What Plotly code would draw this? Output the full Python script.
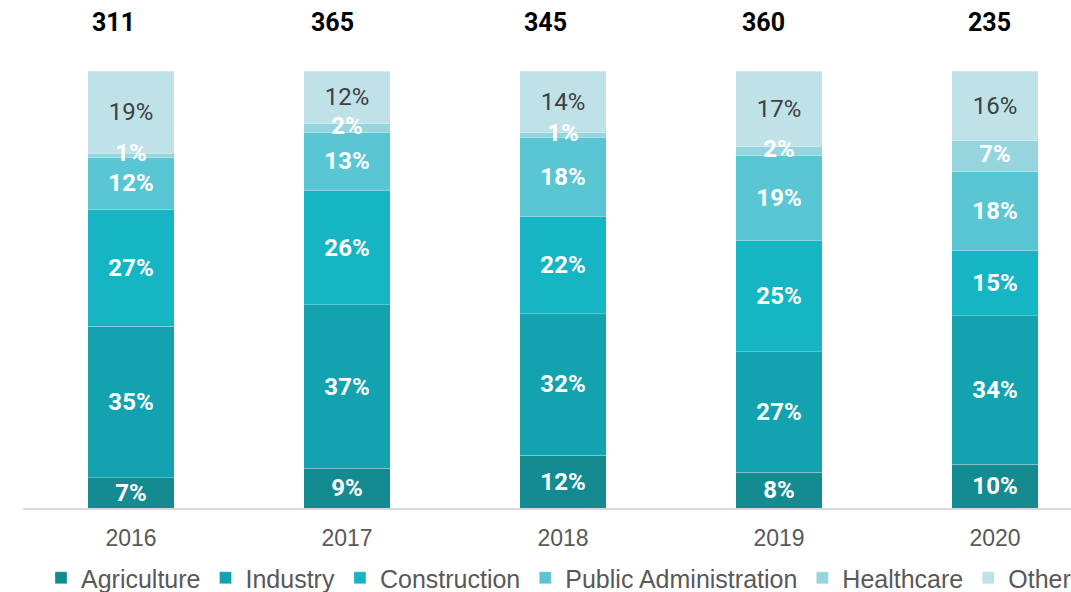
import plotly.graph_objects as go

years = ["2016", "2017", "2018", "2019", "2020"]
totals = [311, 365, 345, 360, 235]

series_names = ["Agriculture", "Industry", "Construction", "Public Administration", "Healthcare", "Other"]
agriculture = [7, 9, 12, 8, 10]
industry = [35, 37, 32, 27, 34]
construction = [27, 26, 22, 25, 15]
public_admin = [12, 13, 18, 19, 18]
healthcare = [1, 2, 1, 2, 7]
other = [19, 12, 14, 17, 16]

series_values = [agriculture, industry, construction, public_admin, healthcare, other]
colors = ["#148A91", "#13A2B0", "#16B5C4", "#5BC6D3", "#97D5DE", "#BEE2E7"]

# styling: vertical level of total labels and their horizontal nudges (px), as in the original layout
TOTAL_LABEL_LEVEL = 111.0
total_label_xshift = [-18, -15, -18, -16, -6]

fig = go.Figure()
for name, vals, col in zip(series_names, series_values, colors):
    is_other = name == "Other"
    is_health = name == "Healthcare"
    fig.add_trace(go.Bar(
        name=name,
        x=years,
        y=vals,
        text=None if is_health else [f"{v}%" for v in vals],
        texttemplate=None if is_health else "%{text}",
        textposition="none" if is_health else "inside",
        insidetextanchor="middle",
        textangle=0,
        insidetextfont=dict(
            family="Roboto",
            size=24,
            color="#404040" if is_other else "#FFFFFF",
            weight="normal" if is_other else "bold",
        ),
        marker=dict(color=col, line=dict(color="rgba(255,255,255,0.35)", width=0.8)),
        width=0.4,
        hoverinfo="skip",
    ))

# Healthcare labels drawn on top (the thin segments would otherwise hide them)
health_mid = []
for i in range(len(years)):
    col_sum = sum(s[i] for s in series_values)
    below = agriculture[i] + industry[i] + construction[i] + public_admin[i]
    health_mid.append((below + healthcare[i] / 2) / col_sum * 100)

fig.add_trace(go.Scatter(
    x=years,
    y=health_mid,
    text=[f"{v}%" for v in healthcare],
    mode="text",
    textposition="middle center",
    textfont=dict(family="Roboto", size=24, color="#FFFFFF", weight="bold"),
    showlegend=False,
    hoverinfo="skip",
))

for i, (t, dx) in enumerate(zip(totals, total_label_xshift)):
    fig.add_annotation(
        x=i, y=TOTAL_LABEL_LEVEL, xref="x", yref="y",
        text=str(t), showarrow=False, xshift=dx,
        xanchor="center", yanchor="middle",
        font=dict(family="Roboto", size=25, color="#000000", weight="bold"),
    )

fig.update_layout(
    width=1110,
    height=592,
    barmode="stack",
    barnorm="percent",
    paper_bgcolor="white",
    plot_bgcolor="white",
    margin=dict(l=23, r=7, t=10, b=84, autoexpand=False),
    uniformtext=dict(minsize=24, mode="show"),
    showlegend=True,
    legend=dict(
        orientation="h",
        x=(41 - 23) / 1080,
        xanchor="left",
        y=-(578 - 508) / 498,
        yanchor="middle",
        font=dict(family="Liberation Sans", size=25, color="#595959"),
        traceorder="normal",
        itemclick=False,
        itemdoubleclick=False,
    ),
    xaxis=dict(
        type="category",
        range=[-0.5, 4.5],
        showline=True,
        linecolor="#D9D9D9",
        linewidth=2,
        showgrid=False,
        zeroline=False,
        ticks="",
        ticklabelstandoff=8,
        tickfont=dict(family="Liberation Sans", size=23, color="#595959"),
    ),
    yaxis=dict(
        range=[0, (508 - 10) / 4.37],
        showticklabels=False,
        showgrid=False,
        zeroline=False,
        showline=False,
    ),
)

fig.write_html(
    "out.html",
    config={"displayModeBar": False},
    post_script="document.body.style.margin='0';document.body.style.overflow='hidden';",
)
